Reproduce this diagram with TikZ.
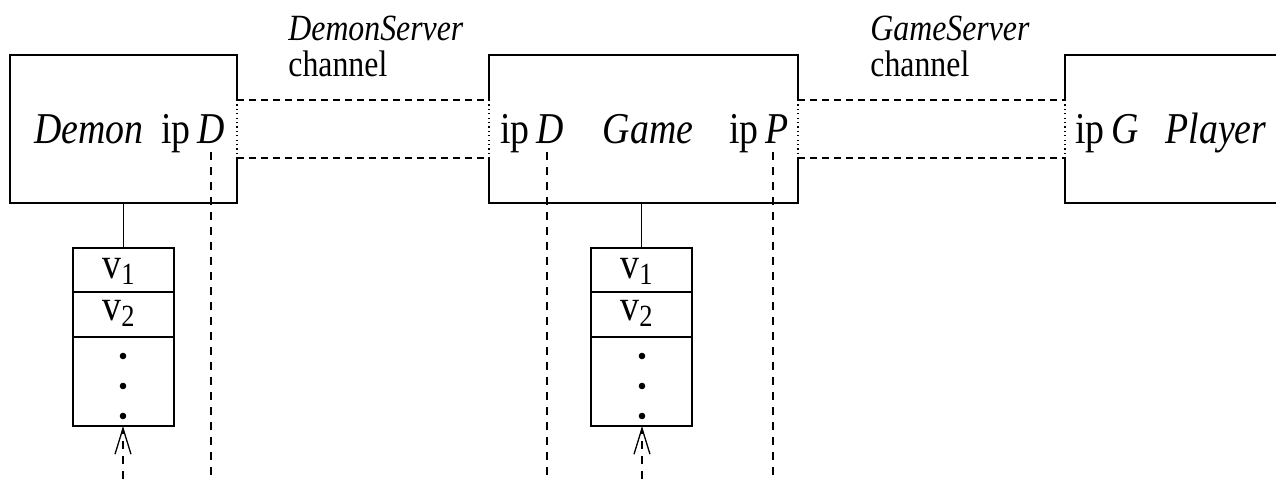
\documentclass[tikz,border=0pt]{standalone}
\usepackage{fontspec}
\setmainfont{Liberation Serif}[FakeStretch=0.86]
\usetikzlibrary{arrows.meta}
\begin{document}
\begin{tikzpicture}[x=0.5pt,y=-0.5pt,
  boxline/.style={line width=0.65pt},
  chan/.style={line width=0.65pt, dash pattern=on 3.5pt off 2.5pt},
  life/.style={line width=0.65pt, dash pattern=on 4pt off 3.5pt},
  portline/.style={line width=0.65pt, dash pattern=on 0.6pt off 1.6pt},
  holder/.style={inner sep=0pt, outer sep=0pt, draw=none},
  cell/.style={draw, line width=0.65pt, inner sep=0pt, outer sep=0pt, minimum width=50.5pt},
  mainlbl/.style={inner sep=0pt, font=\fontsize{22}{26}\selectfont},
  chlbl/.style={inner sep=0pt, font=\fontsize{18.5}{22}\selectfont, align=left},
  dotmark/.style={circle, fill, inner sep=0pt, minimum size=3.3pt}
]
\useasboundingbox (0,0) rectangle (1276,483);

% process boxes
\node[holder, minimum width=113.5pt, minimum height=74pt] (D) at (123.5,129) {};
\node[holder, minimum width=154.5pt, minimum height=74pt] (G) at (643.5,129) {};
\node[holder, minimum width=105.5pt, minimum height=74pt] (P) at (1170.5,129) {};

% Demon box
\draw[boxline] ([yshift=14.5pt]D.east) -- (D.north east) -- (D.north west) -- (D.south west) -- (D.south east) -- ([yshift=-14.5pt]D.east);
\draw[portline] ([yshift=14.5pt]D.east) -- ([yshift=-14.5pt]D.east);
% Game box
\draw[boxline] ([yshift=14.5pt]G.west) -- (G.north west) -- (G.north east) -- ([yshift=14.5pt]G.east);
\draw[boxline] ([yshift=-14.5pt]G.west) -- (G.south west) -- (G.south east) -- ([yshift=-14.5pt]G.east);
\draw[portline] ([yshift=14.5pt]G.west) -- ([yshift=-14.5pt]G.west);
\draw[portline] ([yshift=14.5pt]G.east) -- ([yshift=-14.5pt]G.east);
% Player box (open to the right)
\draw[boxline] (P.north east) -- (P.north west) -- ([yshift=14.5pt]P.west);
\draw[boxline] ([yshift=-14.5pt]P.west) -- (P.south west) -- (P.south east);
\draw[portline] ([yshift=14.5pt]P.west) -- ([yshift=-14.5pt]P.west);

% channels
\draw[chan] ([yshift=14.5pt]D.east) -- ([yshift=14.5pt]G.west);
\draw[chan] ([yshift=-14.5pt]D.east) -- ([yshift=-14.5pt]G.west);
\draw[chan] ([yshift=14.5pt]G.east) -- ([yshift=14.5pt]P.west);
\draw[chan] ([yshift=-14.5pt]G.east) -- ([yshift=-14.5pt]P.west);

% labels in boxes
\node[mainlbl, anchor=base] (demon) at (89,143) {\itshape Demon};
\node[mainlbl, anchor=base] (ipD1) at (193,143) {ip\hspace{0.15em}\textit{D}};
\node[mainlbl, anchor=base] (ipD2) at (532,143) {ip\hspace{0.15em}\textit{D}};
\node[mainlbl, anchor=base] (game) at (648,143) {\itshape Game};
\node[mainlbl, anchor=base] (ipP) at (759,143) {ip\hspace{0.15em}\textit{P}};
\node[mainlbl, anchor=base] (ipG) at (1107,143) {ip\hspace{0.15em}\textit{G}};
\node[mainlbl, anchor=base] (player) at (1216,143) {\itshape Player};

% channel labels
\node[chlbl, anchor=base west] (dsname) at (288,40) {\itshape DemonServer};
\node[chlbl, anchor=base west] (dsch) at (288,76) {channel};
\node[chlbl, anchor=base west] (gsname) at (870,40) {\itshape GameServer};
\node[chlbl, anchor=base west] (gsch) at (870,76) {channel};

% memory of Demon
\node[cell, minimum height=22pt] (da1) at (123.5,270) {};
\node[cell, minimum height=22.5pt] (da2) at (123.5,314.5) {};
\node[cell, minimum height=44.5pt] (da3) at (123.5,381.5) {};
\node[mainlbl, anchor=base] (dv1) at (119,278) {v\textsubscript{1}};
\node[mainlbl, anchor=base] (dv2) at (119,320) {v\textsubscript{2}};
\node[dotmark] (dd1) at (123,356) {};
\node[dotmark] (dd2) at (123,386) {};
\node[dotmark] (dd3) at (123,416) {};
\draw[boxline] (da1.north) -- (da1.north |- D.south);

% memory of Game
\node[cell, minimum height=22pt] (ga1) at (641.5,270) {};
\node[cell, minimum height=22.5pt] (ga2) at (641.5,314.5) {};
\node[cell, minimum height=44.5pt] (ga3) at (641.5,381.5) {};
\node[mainlbl, anchor=base] (gv1) at (637,278) {v\textsubscript{1}};
\node[mainlbl, anchor=base] (gv2) at (637,320) {v\textsubscript{2}};
\node[dotmark] (gd1) at (642,356) {};
\node[dotmark] (gd2) at (642,386) {};
\node[dotmark] (gd3) at (642,416) {};
\draw[boxline] (ga1.north) -- (ga1.north |- G.south);

% incoming arrows to memories
\coordinate (din) at (123,479);
\coordinate (gin) at (642,479);
\draw[life, -{Straight Barb[length=13pt, width=8pt, line width=0.65pt]}] (din) -- (din |- da3.south);
\draw[life, -{Straight Barb[length=13pt, width=8pt, line width=0.65pt]}] (gin) -- (gin |- ga3.south);

% lifelines below ports
\coordinate (l1t) at (211,152); \coordinate (l1b) at (211,479);
\coordinate (l2t) at (547,152); \coordinate (l2b) at (547,479);
\coordinate (l3t) at (773,152); \coordinate (l3b) at (773,479);
\draw[life] (l1t) -- (l1b);
\draw[life] (l2t) -- (l2b);
\draw[life] (l3t) -- (l3b);
\end{tikzpicture}
\end{document}
